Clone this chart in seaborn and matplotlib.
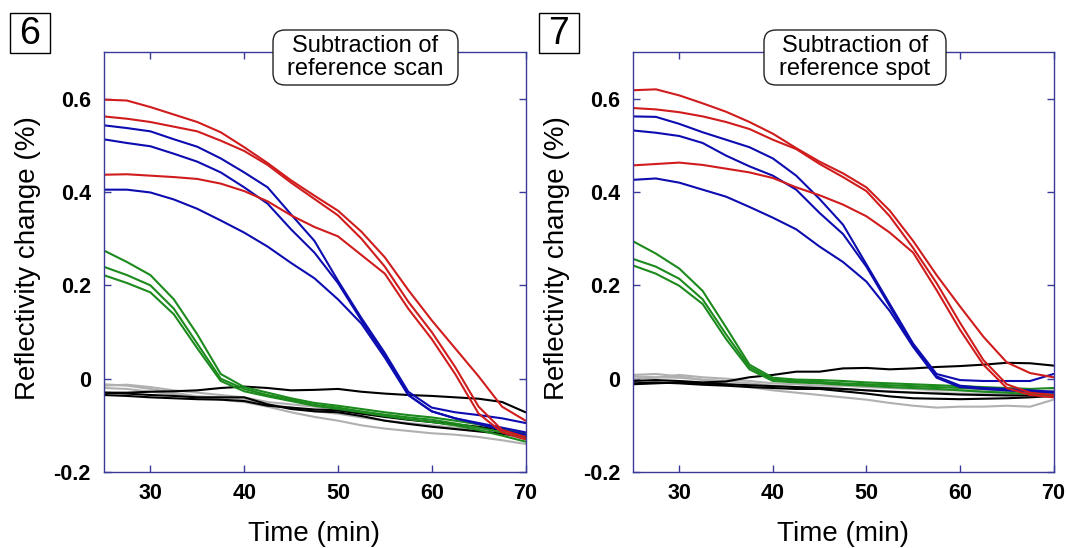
import matplotlib
matplotlib.use("Agg")
import matplotlib.pyplot as plt
from matplotlib.patches import Rectangle, FancyBboxPatch
import seaborn as sns

sns.set_theme(style="ticks", rc={"figure.dpi": 100, "savefig.dpi": 100,
                                 "text.color": "black", "axes.labelcolor": "black",
                                 "xtick.labelcolor": "black", "ytick.labelcolor": "black"})
plt.rcParams["font.family"] = ["Liberation Sans", "DejaVu Sans"]

# ---- data (time in min, reflectivity change in %) ----
time_min = [25, 27.5, 30, 32.5, 35, 37.5, 40, 42.5, 45, 47.5, 50, 52.5, 55, 57.5, 60, 62.5, 65, 67.5, 70]

x_ticks = [30, 40, 50, 60, 70]
y_ticks = [-0.2, 0, 0.2, 0.4, 0.6]
y_tick_labels = ["-0.2", "0", "0.2", "0.4", "0.6"]

# panel 6: subtraction of reference scan
scan_red_a = [0.598, 0.596, 0.582, 0.566, 0.550, 0.528, 0.496, 0.462, 0.425, 0.392, 0.360, 0.315, 0.260, 0.190, 0.125, 0.065, 0.005, -0.060, -0.090]
scan_red_b = [0.562, 0.557, 0.550, 0.540, 0.530, 0.510, 0.488, 0.458, 0.420, 0.385, 0.350, 0.300, 0.240, 0.165, 0.100, 0.025, -0.060, -0.110, -0.125]
scan_red_c = [0.437, 0.438, 0.435, 0.432, 0.428, 0.418, 0.402, 0.380, 0.350, 0.325, 0.305, 0.265, 0.225, 0.150, 0.085, 0.010, -0.075, -0.115, -0.130]
scan_blue_a = [0.543, 0.537, 0.530, 0.513, 0.497, 0.472, 0.442, 0.410, 0.352, 0.295, 0.210, 0.130, 0.055, -0.028, -0.062, -0.072, -0.078, -0.085, -0.095]
scan_blue_b = [0.513, 0.505, 0.498, 0.482, 0.465, 0.442, 0.410, 0.375, 0.320, 0.270, 0.205, 0.125, 0.050, -0.035, -0.070, -0.085, -0.095, -0.105, -0.115]
scan_blue_c = [0.405, 0.405, 0.399, 0.384, 0.364, 0.339, 0.313, 0.283, 0.248, 0.215, 0.170, 0.118, 0.045, -0.035, -0.070, -0.085, -0.097, -0.110, -0.120]
scan_green_a = [0.275, 0.250, 0.222, 0.170, 0.095, 0.010, -0.018, -0.030, -0.042, -0.052, -0.058, -0.065, -0.072, -0.078, -0.083, -0.090, -0.098, -0.108, -0.118]
scan_green_b = [0.240, 0.222, 0.200, 0.150, 0.075, 0.000, -0.022, -0.035, -0.045, -0.056, -0.062, -0.070, -0.077, -0.083, -0.088, -0.096, -0.105, -0.115, -0.128]
scan_green_c = [0.222, 0.205, 0.185, 0.138, 0.065, -0.005, -0.027, -0.038, -0.048, -0.058, -0.065, -0.072, -0.080, -0.087, -0.093, -0.100, -0.110, -0.122, -0.135]
scan_black_a = [-0.030, -0.030, -0.028, -0.027, -0.025, -0.020, -0.017, -0.020, -0.025, -0.024, -0.022, -0.028, -0.032, -0.035, -0.037, -0.040, -0.043, -0.050, -0.072]
scan_black_b = [-0.030, -0.032, -0.035, -0.037, -0.040, -0.040, -0.040, -0.055, -0.065, -0.070, -0.072, -0.080, -0.090, -0.097, -0.103, -0.108, -0.113, -0.118, -0.125]
scan_black_c = [-0.035, -0.037, -0.040, -0.042, -0.044, -0.045, -0.048, -0.058, -0.062, -0.066, -0.068, -0.075, -0.082, -0.088, -0.093, -0.098, -0.103, -0.110, -0.120]
scan_gray_a = [-0.012, -0.015, -0.022, -0.030, -0.038, -0.045, -0.050, -0.060, -0.072, -0.082, -0.090, -0.100, -0.107, -0.112, -0.117, -0.120, -0.125, -0.132, -0.140]
scan_gray_b = [-0.015, -0.013, -0.018, -0.025, -0.030, -0.035, -0.040, -0.050, -0.055, -0.060, -0.067, -0.075, -0.080, -0.087, -0.092, -0.100, -0.107, -0.115, -0.125]
scan_gray_c = [-0.020, -0.022, -0.028, -0.033, -0.038, -0.040, -0.045, -0.055, -0.062, -0.070, -0.075, -0.083, -0.090, -0.095, -0.100, -0.105, -0.110, -0.118, -0.130]

# panel 7: subtraction of reference spot
spot_red_a = [0.618, 0.620, 0.607, 0.590, 0.572, 0.550, 0.525, 0.494, 0.465, 0.440, 0.410, 0.360, 0.295, 0.222, 0.155, 0.090, 0.035, 0.012, 0.003]
spot_red_b = [0.580, 0.577, 0.571, 0.562, 0.550, 0.535, 0.512, 0.492, 0.460, 0.432, 0.402, 0.348, 0.280, 0.205, 0.120, 0.040, -0.012, -0.030, -0.035]
spot_red_c = [0.457, 0.460, 0.463, 0.458, 0.450, 0.442, 0.430, 0.410, 0.393, 0.373, 0.348, 0.313, 0.270, 0.190, 0.105, 0.030, -0.020, -0.035, -0.040]
spot_blue_a = [0.562, 0.561, 0.546, 0.528, 0.512, 0.496, 0.472, 0.435, 0.385, 0.330, 0.245, 0.160, 0.075, 0.010, -0.003, -0.005, -0.005, -0.005, 0.010]
spot_blue_b = [0.532, 0.527, 0.520, 0.505, 0.478, 0.455, 0.435, 0.405, 0.355, 0.310, 0.240, 0.155, 0.070, 0.005, -0.015, -0.020, -0.022, -0.025, -0.028]
spot_blue_c = [0.426, 0.429, 0.420, 0.405, 0.390, 0.368, 0.345, 0.320, 0.283, 0.250, 0.208, 0.145, 0.068, 0.002, -0.018, -0.022, -0.025, -0.028, -0.030]
spot_green_a = [0.295, 0.268, 0.236, 0.188, 0.110, 0.030, 0.002, -0.002, -0.003, -0.005, -0.008, -0.010, -0.012, -0.014, -0.016, -0.018, -0.020, -0.022, -0.020]
spot_green_b = [0.257, 0.240, 0.214, 0.170, 0.095, 0.025, -0.002, -0.005, -0.007, -0.010, -0.012, -0.014, -0.016, -0.018, -0.020, -0.022, -0.025, -0.027, -0.030]
spot_green_c = [0.243, 0.225, 0.199, 0.160, 0.085, 0.020, -0.005, -0.008, -0.010, -0.013, -0.015, -0.018, -0.020, -0.022, -0.025, -0.028, -0.030, -0.033, -0.038]
spot_black_a = [-0.005, -0.003, -0.005, -0.008, -0.006, 0.003, 0.008, 0.015, 0.015, 0.022, 0.023, 0.020, 0.022, 0.025, 0.027, 0.030, 0.034, 0.033, 0.028]
spot_black_b = [-0.010, -0.008, -0.010, -0.013, -0.015, -0.018, -0.020, -0.022, -0.022, -0.027, -0.032, -0.038, -0.042, -0.043, -0.044, -0.043, -0.042, -0.040, -0.037]
spot_black_c = [-0.012, -0.010, -0.008, -0.010, -0.012, -0.014, -0.016, -0.018, -0.020, -0.022, -0.025, -0.028, -0.030, -0.032, -0.034, -0.035, -0.036, -0.036, -0.035]
spot_gray_a = [0.008, 0.010, 0.005, -0.003, -0.010, -0.018, -0.025, -0.030, -0.035, -0.040, -0.045, -0.052, -0.058, -0.062, -0.060, -0.060, -0.058, -0.060, -0.045]
spot_gray_b = [0.005, 0.003, 0.002, -0.002, -0.005, -0.010, -0.015, -0.018, -0.020, -0.022, -0.025, -0.027, -0.030, -0.030, -0.032, -0.032, -0.033, -0.035, -0.030]
spot_gray_c = [0.000, 0.002, 0.008, 0.003, 0.000, -0.005, -0.010, -0.012, -0.015, -0.015, -0.018, -0.020, -0.022, -0.025, -0.025, -0.027, -0.028, -0.030, -0.025]

RED = "#d01c1c"
BLUE = "#0c0cb0"
GREEN = "#1c8a1c"
BLACK = "#000000"
GRAY = "#b0b0b0"
SPINE = "#3a3a98"

panels = [
    ("6", "Subtraction of\nreference scan",
     [(scan_gray_a, GRAY), (scan_gray_b, GRAY), (scan_gray_c, GRAY),
      (scan_black_a, BLACK), (scan_black_b, BLACK), (scan_black_c, BLACK),
      (scan_green_a, GREEN), (scan_green_b, GREEN), (scan_green_c, GREEN),
      (scan_blue_a, BLUE), (scan_blue_b, BLUE), (scan_blue_c, BLUE),
      (scan_red_a, RED), (scan_red_b, RED), (scan_red_c, RED)]),
    ("7", "Subtraction of\nreference spot",
     [(spot_gray_a, GRAY), (spot_gray_b, GRAY), (spot_gray_c, GRAY),
      (spot_black_a, BLACK), (spot_black_b, BLACK), (spot_black_c, BLACK),
      (spot_green_a, GREEN), (spot_green_b, GREEN), (spot_green_c, GREEN),
      (spot_blue_a, BLUE), (spot_blue_b, BLUE), (spot_blue_c, BLUE),
      (spot_red_a, RED), (spot_red_b, RED), (spot_red_c, RED)]),
]

W, H = 1067, 548
fig = plt.figure(figsize=(W / 100, H / 100), dpi=100)

# axes boxes in pixels: left, right, top, bottom
ax_px = [(103.5, 525.5, 52, 472), (632.5, 1053.5, 52, 472)]
label_box_px = [(10, 13), (539, 13)]
note_box_px = [(273, 458, 30, 85), (764, 946, 30, 85)]

for (num, note, curves), (l, r, t, b), (bx, by), (nl, nr, nt, nb) in zip(panels, ax_px, label_box_px, note_box_px):
    ax = fig.add_axes([l / W, 1 - b / H, (r - l) / W, (b - t) / H])
    for vals, col in curves:
        sns.lineplot(x=time_min, y=vals, color=col, linewidth=1.5, ax=ax)

    ax.set_xlim(25, 70)
    ax.set_ylim(-0.2, 0.7)
    ax.set_xticks(x_ticks, [str(v) for v in x_ticks], fontsize=15.5, fontweight="bold")
    ax.set_yticks(y_ticks, y_tick_labels, fontsize=15.5, fontweight="bold")
    ax.tick_params(axis="both", direction="in", top=True, right=True,
                   length=5, width=1, color=SPINE)
    ax.tick_params(axis="x", pad=8)
    ax.tick_params(axis="y", pad=9)
    for sp in ax.spines.values():
        sp.set_color(SPINE)
        sp.set_linewidth(1)

    ax.set_xlabel("Time (min)", fontsize=20)
    ax.xaxis.set_label_coords(0.5, -0.148)
    ax.xaxis.label.set_va("center")
    ax.set_ylabel("Reflectivity change (%)", fontsize=20)
    ax.yaxis.set_label_coords(-0.18, 0.51)
    ax.yaxis.label.set_va("center")

    # panel number in a square box
    fig.patches.append(Rectangle((bx / 100, (H - by - 40) / 100), 0.40, 0.40,
                                 transform=fig.dpi_scale_trans, fill=False,
                                 edgecolor="black", linewidth=1))
    fig.text((bx + 20) / W, 1 - (by + 21) / H, num, fontsize=27,
             ha="center", va="center", color="black")

    # rounded note box over the top spine
    fig.patches.append(FancyBboxPatch((nl / 100, (H - nb) / 100), (nr - nl) / 100, (nb - nt) / 100,
                                      boxstyle="round,pad=0,rounding_size=0.12",
                                      transform=fig.dpi_scale_trans,
                                      facecolor="white", edgecolor="#222222", linewidth=1))
    fig.text((nl + nr) / 2 / W, 1 - (nt + nb) / 2 / H, note, fontsize=17,
             ha="center", va="center", linespacing=1.1, color="black")

fig.savefig("out.png", dpi=100)
